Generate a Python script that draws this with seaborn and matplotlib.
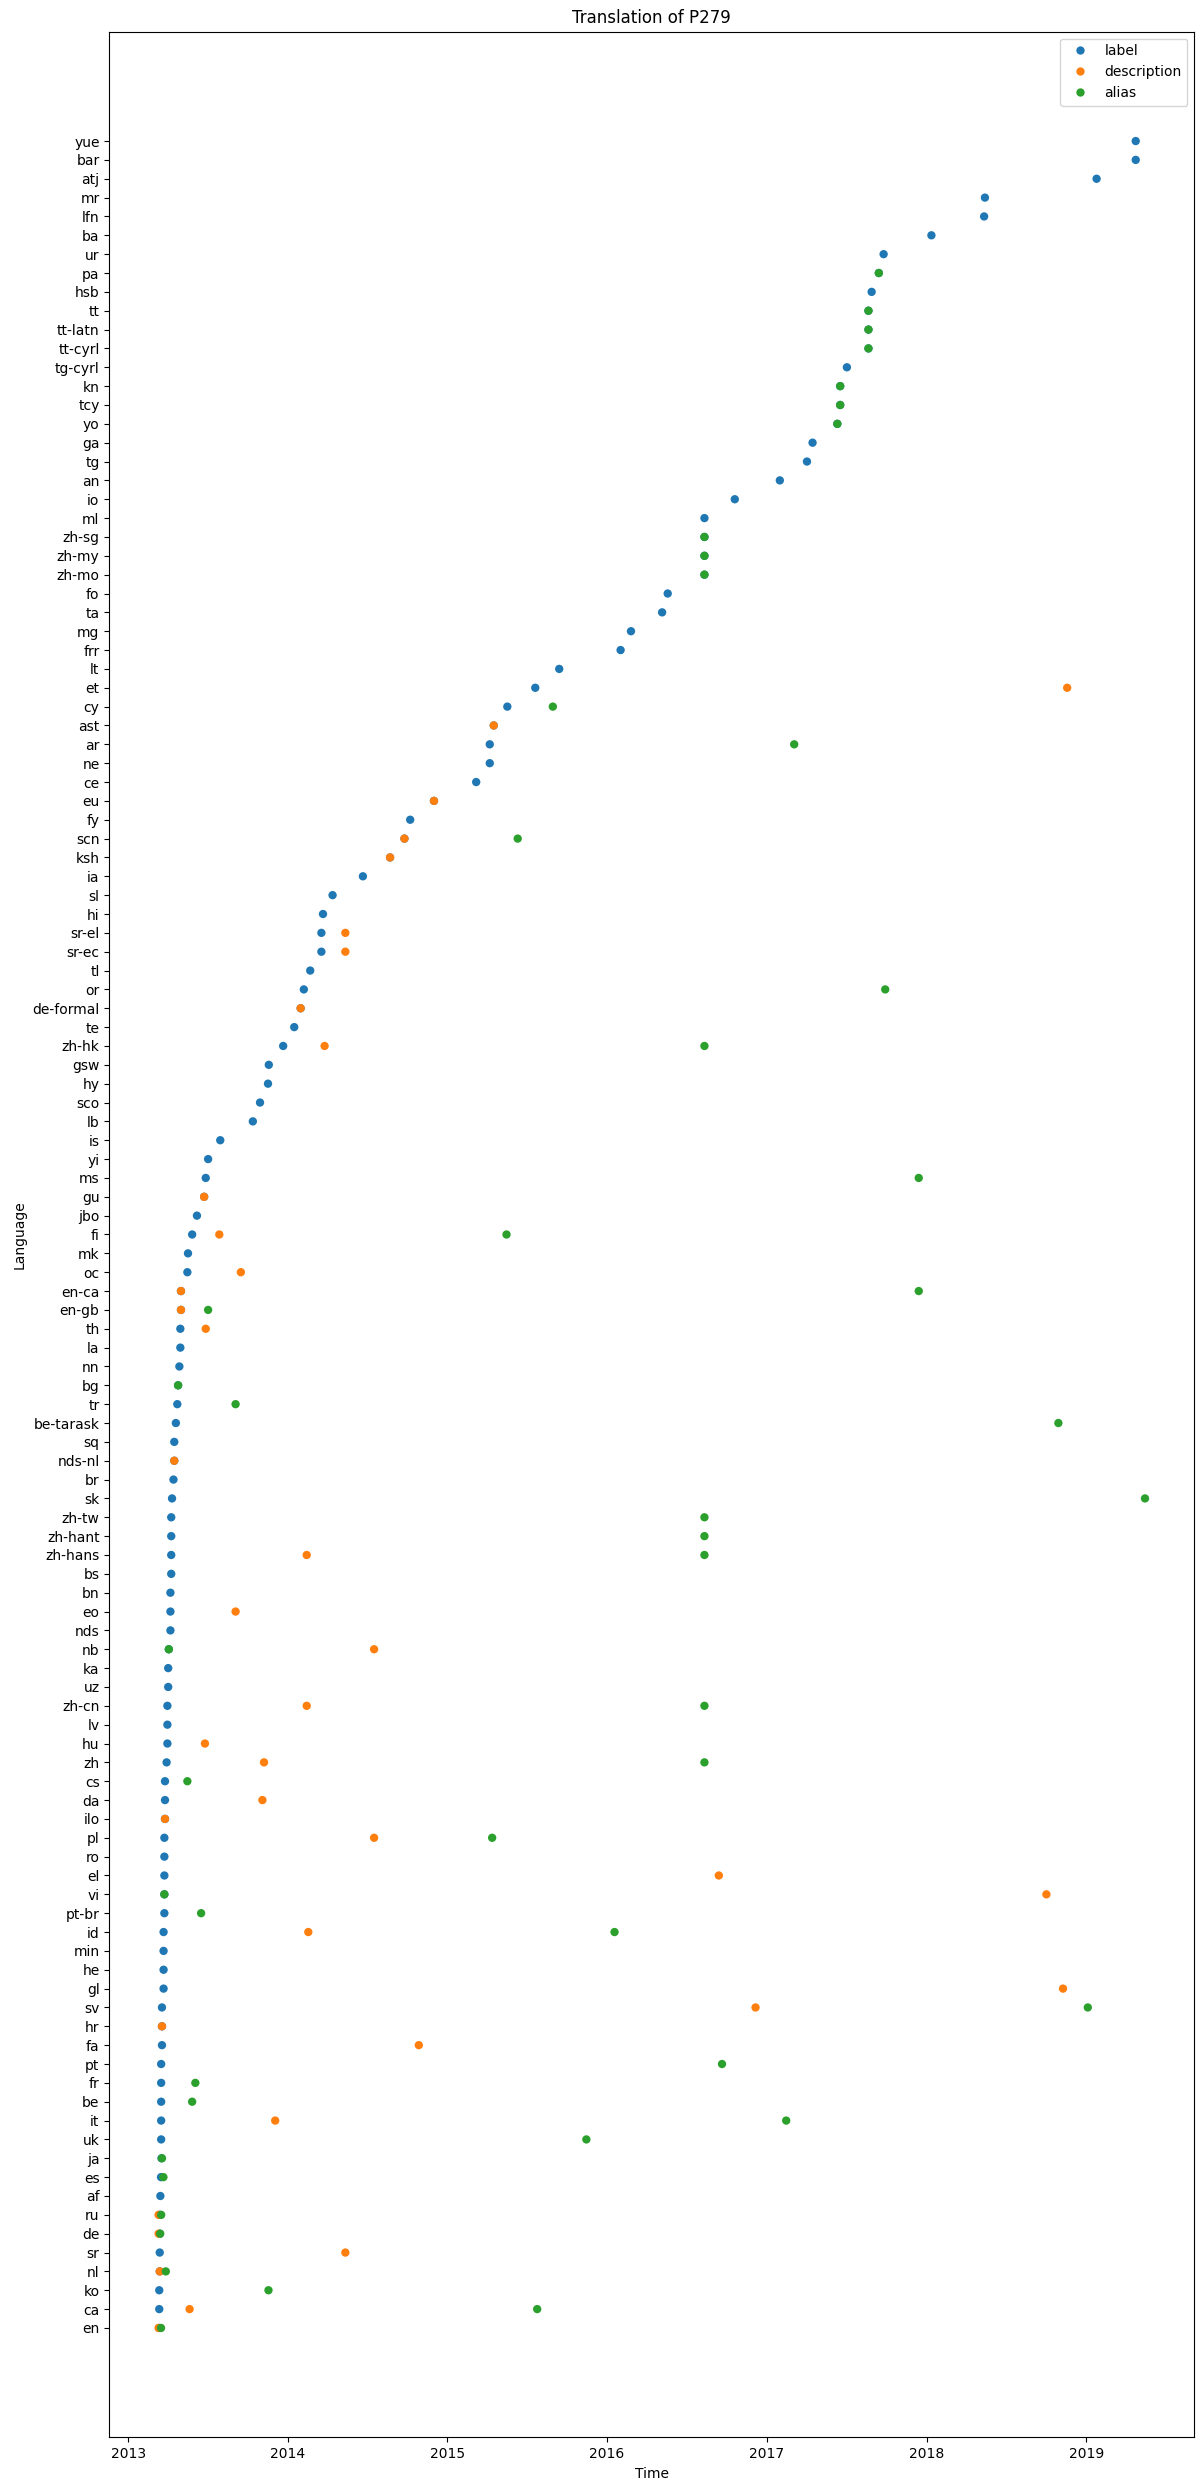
import numpy as np
import pandas as pd
import matplotlib
matplotlib.use("Agg")
import matplotlib.pyplot as plt
import seaborn as sns

# Languages, bottom to top, with the year their label was added
languages = ["en", "ca", "ko", "nl", "sr", "de", "ru", "af", "es", "ja", "uk", "it", "be", "fr", "pt",
             "fa", "hr", "sv", "gl", "he", "min", "id", "pt-br", "vi", "el", "ro", "pl", "ilo", "da",
             "cs", "zh", "hu", "lv", "zh-cn", "uz", "ka", "nb", "nds", "eo", "bn", "bs", "zh-hans",
             "zh-hant", "zh-tw", "sk", "br", "nds-nl", "sq", "be-tarask", "tr", "bg", "nn", "la", "th",
             "en-gb", "en-ca", "oc", "mk", "fi", "jbo", "gu", "ms", "yi", "is", "lb", "sco", "hy", "gsw",
             "zh-hk", "te", "de-formal", "or", "tl", "sr-ec", "sr-el", "hi", "sl", "ia", "ksh", "scn",
             "fy", "eu", "ce", "ne", "ar", "ast", "cy", "et", "lt", "frr", "mg", "ta", "fo", "zh-mo",
             "zh-my", "zh-sg", "ml", "io", "an", "tg", "ga", "yo", "tcy", "kn", "tg-cyrl", "tt-cyrl",
             "tt-latn", "tt", "hsb", "pa", "ur", "ba", "lfn", "mr", "atj", "bar", "yue"]
label_year = [2013.193, 2013.194, 2013.194, 2013.197, 2013.197, 2013.197, 2013.197, 2013.201, 2013.205,
              2013.208, 2013.206, 2013.206, 2013.206, 2013.206, 2013.206, 2013.211, 2013.211, 2013.211,
              2013.221, 2013.221, 2013.221, 2013.221, 2013.226, 2013.226, 2013.226, 2013.226, 2013.226,
              2013.230, 2013.230, 2013.230, 2013.240, 2013.245, 2013.245, 2013.245, 2013.250, 2013.250,
              2013.254, 2013.264, 2013.264, 2013.264, 2013.269, 2013.269, 2013.269, 2013.269, 2013.274,
              2013.283, 2013.288, 2013.288, 2013.298, 2013.307, 2013.312, 2013.320, 2013.326, 2013.326,
              2013.330, 2013.330, 2013.370, 2013.374, 2013.400, 2013.430, 2013.475, 2013.485, 2013.500,
              2013.576, 2013.780, 2013.825, 2013.875, 2013.880, 2013.970, 2014.040, 2014.080, 2014.100,
              2014.140, 2014.210, 2014.210, 2014.220, 2014.280, 2014.470, 2014.640, 2014.730, 2014.766,
              2014.915, 2015.180, 2015.265, 2015.265, 2015.290, 2015.375, 2015.550, 2015.700, 2016.085,
              2016.150, 2016.345, 2016.380, 2016.610, 2016.610, 2016.610, 2016.610, 2016.800, 2017.080,
              2017.250, 2017.285, 2017.440, 2017.458, 2017.458, 2017.500, 2017.635, 2017.635, 2017.635,
              2017.655, 2017.700, 2017.730, 2018.030, 2018.360, 2018.365, 2019.065, 2019.310, 2019.310]

desc_langs = ["en", "ca", "nl", "sr", "de", "ru", "it", "fa", "hr", "sv", "gl", "id", "vi", "el", "pl",
              "ilo", "da", "zh", "hu", "zh-cn", "nb", "eo", "zh-hans", "nds-nl", "th", "en-gb", "en-ca",
              "oc", "fi", "gu", "zh-hk", "de-formal", "sr-ec", "sr-el", "ksh", "scn", "eu", "ast", "et"]
desc_year = [2013.190, 2013.384, 2013.197, 2014.360, 2013.190, 2013.190, 2013.920, 2014.820, 2013.211,
             2016.930, 2018.854, 2014.128, 2018.750, 2016.700, 2014.540, 2013.230, 2013.840, 2013.850,
             2013.480, 2014.118, 2014.540, 2013.672, 2014.118, 2013.288, 2013.485, 2013.330, 2013.330,
             2013.705, 2013.570, 2013.475, 2014.230, 2014.080, 2014.360, 2014.360, 2014.640, 2014.730,
             2014.915, 2015.290, 2018.880]

alias_langs = ["en", "ca", "ko", "nl", "de", "ru", "es", "ja", "uk", "it", "be", "fr", "pt", "sv", "id",
               "pt-br", "vi", "pl", "cs", "zh", "zh-cn", "nb", "zh-hans", "zh-hant", "zh-tw", "sk",
               "be-tarask", "tr", "bg", "en-gb", "en-ca", "fi", "ms", "zh-hk", "or", "scn", "ar", "cy",
               "zh-mo", "zh-my", "zh-sg", "yo", "tcy", "kn", "tt-cyrl", "tt-latn", "tt", "pa"]
alias_year = [2013.205, 2015.562, 2013.878, 2013.235, 2013.200, 2013.206, 2013.220, 2013.211, 2015.870,
              2017.120, 2013.400, 2013.420, 2016.720, 2019.010, 2016.047, 2013.456, 2013.226, 2015.280,
              2013.370, 2016.610, 2016.610, 2013.254, 2016.610, 2016.610, 2016.610, 2019.368, 2018.825,
              2013.672, 2013.312, 2013.500, 2017.950, 2015.370, 2017.950, 2016.610, 2017.740, 2015.440,
              2017.170, 2015.660, 2016.610, 2016.610, 2016.610, 2017.440, 2017.458, 2017.458, 2017.635,
              2017.635, 2017.635, 2017.700]

kinds = ["label", "description", "alias"]


def to_date(years):
    years = np.asarray(years, dtype=float)
    base = pd.to_datetime([f"{int(y)}-01-01" for y in years])
    return base + pd.to_timedelta((years - years.astype(int)) * 365.25, unit="D")


df = pd.concat([
    pd.DataFrame({"Language": languages, "Time": to_date(label_year), "kind": kinds[0]}),
    pd.DataFrame({"Language": desc_langs, "Time": to_date(desc_year), "kind": kinds[1]}),
    pd.DataFrame({"Language": alias_langs, "Time": to_date(alias_year), "kind": kinds[2]}),
], ignore_index=True)
df["Language"] = pd.Categorical(df["Language"], categories=languages)

fig = plt.figure(figsize=(12.03, 24.91), dpi=100)
ax = fig.add_subplot(111)
fig.subplots_adjust(left=109.3 / 1203, right=1194.3 / 1203, top=1 - 31.7 / 2491, bottom=1 - 2437.3 / 2491)

palette = dict(zip(kinds, sns.color_palette("tab10", 3)))
sns.scatterplot(data=df, x="Time", y="Language", hue="kind", hue_order=kinds, palette=palette,
                s=36, linewidth=0, ax=ax, legend=True)

ylim = ax.get_ylim()
if ylim[0] > ylim[1]:
    ax.set_ylim(ylim[1], ylim[0])

handles, labels = ax.get_legend_handles_labels()
ax.legend(handles, labels, loc="upper right")
ax.set_title("Translation of P279")
ax.set_xlabel("Time")
ax.set_ylabel("Language")

fig.savefig("out.png", dpi=100)
